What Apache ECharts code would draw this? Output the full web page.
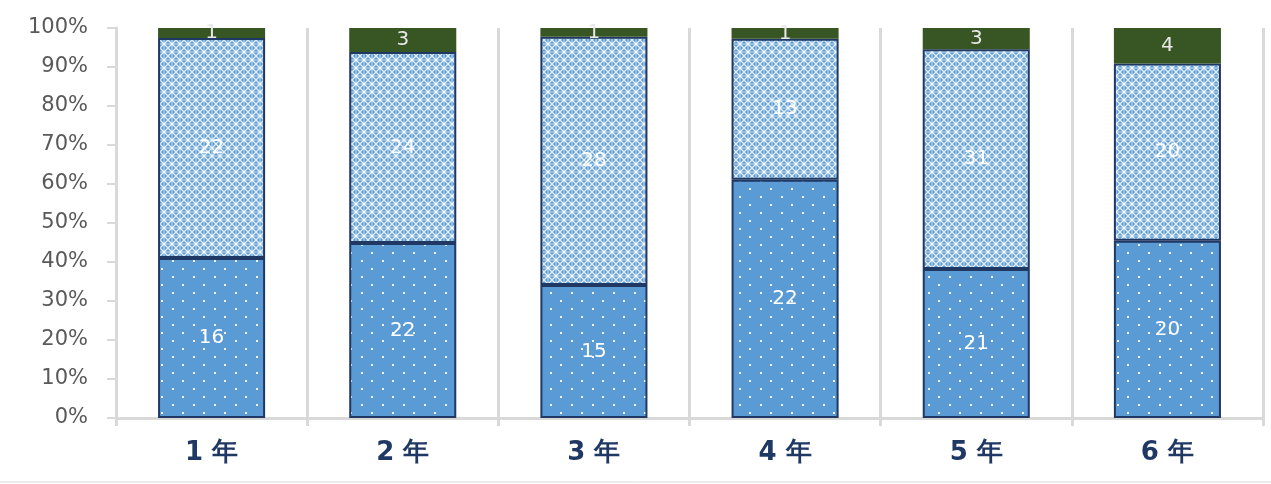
<!DOCTYPE html>
<html>
<head>
<meta charset="utf-8">
<script src="https://cdn.jsdelivr.net/npm/echarts@6/dist/echarts.min.js"></script>
<style>
  html, body { margin: 0; padding: 0; background: #fff; }
  #chart { width: 1271px; height: 484px; }
</style>
</head>
<body>
<div id="chart"></div>
<script>
const categories = ['1 年', '2 年', '3 年', '4 年', '5 年', '6 年']
const bottomCounts = [16, 22, 15, 22, 21, 20]
const middleCounts = [22, 24, 28, 13, 31, 20]
const topCounts = [1, 3, 1, 1, 3, 4]
const yTicks = [0, 10, 20, 30, 40, 50, 60, 70, 80, 90, 100]

const totals = categories.map((_, i) => bottomCounts[i] + middleCounts[i] + topCounts[i])
const toPct = (arr) => arr.map((v, i) => ({ value: v / totals[i] * 100, raw: v }))

// white dots on blue
function dotPattern() {
  const c = document.createElement('canvas')
  c.width = 21; c.height = 16
  const g = c.getContext('2d')
  g.fillStyle = '#5b9bd5'; g.fillRect(0, 0, 21, 16)
  g.fillStyle = '#eef5fc'
  g.fillRect(4, 4, 2, 2)
  g.fillRect(14, 12, 2, 2)
  return { image: c, repeat: 'repeat' }
}

// white trellis on blue
function meshPattern() {
  const s = 8
  const c = document.createElement('canvas')
  c.width = s; c.height = s
  const g = c.getContext('2d')
  g.fillStyle = '#5b9bd5'; g.fillRect(0, 0, s, s)
  g.strokeStyle = 'rgba(255,255,255,0.85)'
  g.lineWidth = 1.3
  g.beginPath()
  g.moveTo(0, 0); g.lineTo(s, s)
  g.moveTo(s, 0); g.lineTo(0, s)
  g.stroke()
  g.fillStyle = 'rgba(255,255,255,0.7)'
  g.fillRect(0, s / 2 - 0.5, s, 1)
  g.fillRect(s / 2 - 0.5, 0, 1, s)
  return { image: c, repeat: 'repeat' }
}

const labelStyle = {
  show: true, position: 'inside', color: '#fff', fontSize: 20,
  fontFamily: 'DejaVu Sans', formatter: (p) => p.data.raw,
}

const chart = echarts.init(document.getElementById('chart'))
chart.setOption({
  animation: false,
  grid: { left: 116, right: 8, top: 28, bottom: 66 },
  xAxis: {
    type: 'category', data: categories,
    axisLine: { lineStyle: { color: '#d9d9d9', width: 3 } },
    axisTick: { show: true, length: 8, lineStyle: { color: '#d9d9d9', width: 3 } },
    splitLine: { show: true, lineStyle: { color: '#d9d9d9', width: 3 } },
    axisLabel: { color: '#203864', fontSize: 26, fontWeight: 'bold', margin: 22,
      fontFamily: 'DejaVu Sans' },
  },
  yAxis: {
    type: 'value', min: 0, max: 100, interval: 10,
    axisLine: { show: true, lineStyle: { color: '#d9d9d9', width: 3 } },
    axisTick: { show: true, length: 9, lineStyle: { color: '#d9d9d9', width: 2 } },
    splitLine: { show: false },
    axisLabel: { color: '#595959', fontSize: 21, margin: 28, fontFamily: 'DejaVu Sans',
      formatter: (v) => yTicks.includes(v) ? v + '%' : '' },
  },
  series: [
    { name: 'a', type: 'bar', stack: 's', barWidth: '56%', data: toPct(bottomCounts),
      itemStyle: { color: dotPattern(), borderColor: '#203864', borderWidth: 2 },
      label: labelStyle },
    { name: 'b', type: 'bar', stack: 's', data: toPct(middleCounts),
      itemStyle: { color: meshPattern(), borderColor: '#203864', borderWidth: 2 },
      label: labelStyle },
    { name: 'c', type: 'bar', stack: 's', data: toPct(topCounts),
      itemStyle: { color: '#375623' },
      label: { ...labelStyle, color: '#e8e8e8' } },
  ],
  graphic: [
    { type: 'line', shape: { x1: 0, y1: 482, x2: 1271, y2: 482 },
      style: { stroke: '#d9d9d9', lineWidth: 1 } },
  ],
})
</script>
</body>
</html>
